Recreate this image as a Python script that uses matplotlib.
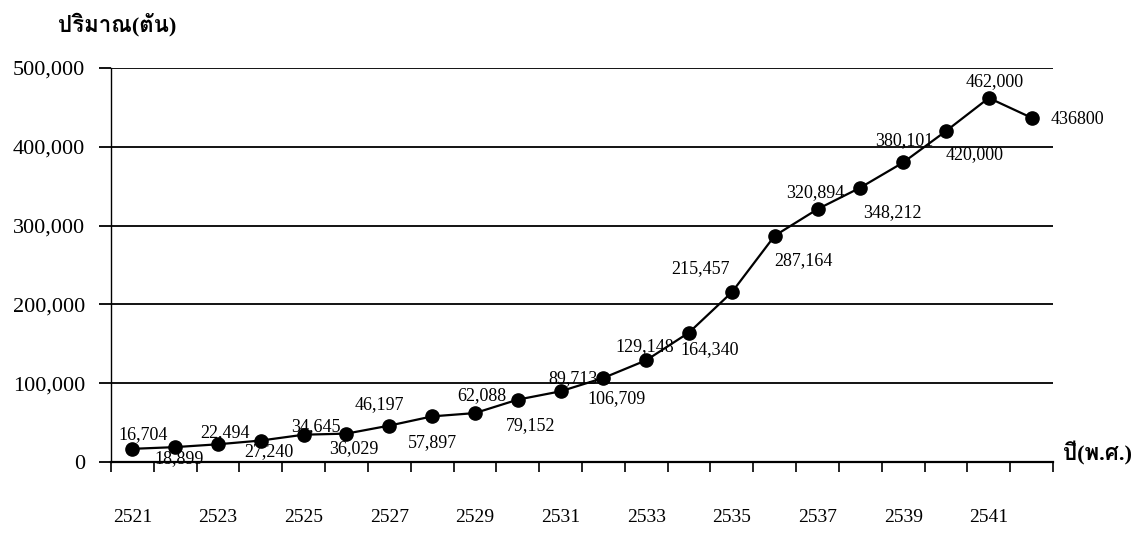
import matplotlib
matplotlib.use("Agg")
import matplotlib.pyplot as plt
from matplotlib import font_manager
from matplotlib.ft2font import FT2Font
from matplotlib.ticker import FuncFormatter, FixedLocator

years = ["2521", "2522", "2523", "2524", "2525", "2526", "2527", "2528", "2529", "2530", "2531",
         "2532", "2533", "2534", "2535", "2536", "2537", "2538", "2539", "2540", "2541", "2542"]
tonnes = [16704, 18899, 22494, 27240, 34645, 36029, 46197, 57897, 62088, 79152, 89713,
          106709, 129148, 164340, 215457, 287164, 320894, 348212, 380101, 420000, 462000, 436800]
point_labels = ["16,704", "18,899", "22,494", "27,240", "34,645", "36,029", "46,197", "57,897",
                "62,088", "79,152", "89,713", "106,709", "129,148", "164,340", "215,457",
                "287,164", "320,894", "348,212", "380,101", "420,000", "462,000", "436800"]
y_ticks = [0, 100000, 200000, 300000, 400000, 500000]

# label offsets in pixels (dx right, dy down) relative to each point
offsets = [(11, -14), (4, 11), (7, -12), (8, 11), (12, -8), (7, 15), (-10, -21), (0, 26),
           (7, -17), (13, 26), (12, -13), (13, 21), (-2, -14), (21, 17), (-31, -24),
           (29, 25), (-2, -17), (32, 25), (1, -22), (29, 24), (6, -16), (46, 2)]

# look for any installed font that can draw Thai
thai_fams = []
for f in font_manager.fontManager.ttflist:
    try:
        if 0x0E1B in FT2Font(f.fname).get_charmap() and f.name not in thai_fams:
            thai_fams.append(f.name)
    except Exception:
        pass

serif = ["Liberation Serif", "DejaVu Sans"]
thai = ["Liberation Serif"] + thai_fams + ["DejaVu Sans"]

fig = plt.figure(figsize=(11.44, 5.33), dpi=100)
ax = fig.add_axes([0.097, 0.1332, 0.8235, 0.7392])

x = list(range(len(years)))
ax.plot(x, tonnes, color="black", lw=1.6, marker="o", ms=9.5, zorder=3)

px = 72 / 100
for i, (xi, yi) in enumerate(zip(x, tonnes)):
    dx, dy = offsets[i]
    ax.annotate(point_labels[i], (xi, yi), xytext=(dx * px, -dy * px), textcoords="offset points",
                ha="center", va="center", fontsize=13, family=serif, zorder=4)

ax.set_xlim(-0.5, len(years) - 0.5)
ax.set_ylim(0, 500000)

ax.set_yticks(y_ticks)
ax.yaxis.set_major_formatter(FuncFormatter(lambda v, p: f"{int(v):,}"))
ax.grid(axis="y", color="black", lw=1.3)
ax.tick_params(axis="y", length=8.5, width=1.3, pad=10, labelsize=16)
for t in ax.get_yticklabels():
    t.set_family(serif)

ax.set_xticks(x[::2])
ax.set_xticklabels(years[::2], family=serif, fontsize=14)
ax.xaxis.set_minor_locator(FixedLocator([i - 0.5 for i in range(len(years) + 1)]))
ax.tick_params(axis="x", which="major", length=0, pad=34)
ax.tick_params(axis="x", which="minor", length=7, width=1.2, direction="out")

for s in ["top", "right"]:
    ax.spines[s].set_visible(False)
ax.spines["left"].set_linewidth(1.0)
ax.spines["bottom"].set_linewidth(1.6)

fig.text(58 / 1144, 1 - 25 / 533, "ปริมาณ(ตัน)", ha="left", va="center", fontsize=16,
         family=thai, fontweight="bold")
fig.text(1063 / 1144, 1 - 453 / 533, "ปี(พ.ศ.)", ha="left", va="center", fontsize=16,
         family=thai, fontweight="bold")

fig.savefig("out.png", dpi=100)
